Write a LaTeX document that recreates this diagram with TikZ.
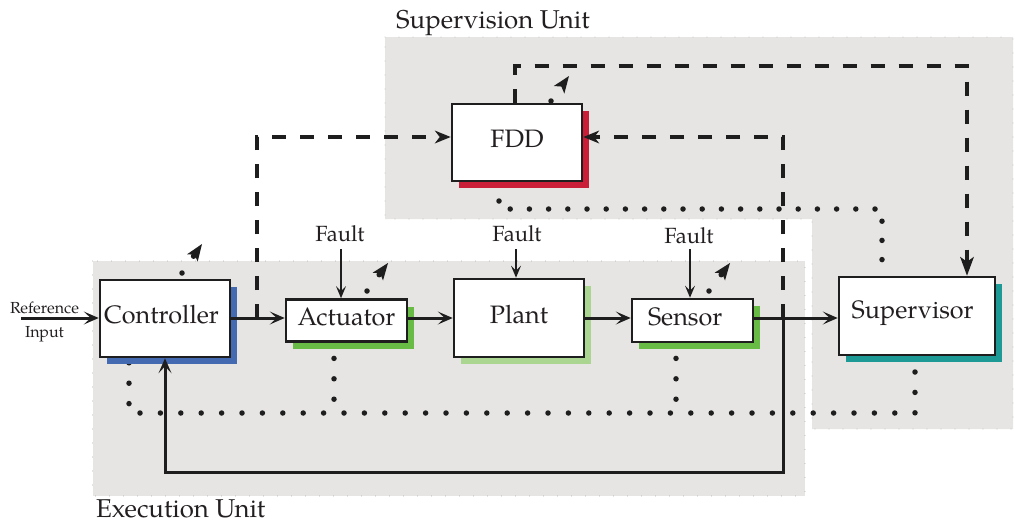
\documentclass[tikz,border=0pt]{standalone}
\usepackage{fontspec}
\setmainfont{TeX Gyre Pagella}
\usetikzlibrary{arrows.meta,shadows}
\definecolor{bluesh}{RGB}{68,106,178}
\definecolor{greensh}{RGB}{104,188,70}
\definecolor{lgreensh}{RGB}{170,214,146}
\definecolor{redsh}{RGB}{202,30,56}
\definecolor{tealsh}{RGB}{30,154,150}
\definecolor{regiongray}{RGB}{230,229,227}
\definecolor{lineblack}{RGB}{30,30,30}
\definecolor{textc}{RGB}{35,31,32}
\newcommand\boxfnt{\fontsize{25.2}{29}\selectfont}
\newcommand\unitfnt{\fontsize{25.8}{30}\selectfont}
\newcommand\faultfnt{\fontsize{22}{26}\selectfont}
\newcommand\reffnt{\fontsize{16}{19}\selectfont}
\pgfdeclarelayer{bg}
\pgfdeclarelayer{lines}
\pgfsetlayers{bg,lines,main}
\begin{document}
\begin{tikzpicture}[x=1pt,y=-1pt,
  box/.style={draw=lineblack, line width=2.6pt, fill=white, inner sep=0pt,
    text height=17.5pt, text depth=7pt, font=\boxfnt, text=textc},
  shadowof/.style={general shadow={fill=#1, draw=none, shadow xshift=7pt, shadow yshift=-7pt}},
  lbl/.style={text=textc, inner sep=0pt},
  arr/.style={line width=3pt, draw=lineblack, -{Stealth[length=15pt,width=13pt,inset=7pt,line width=0pt]}},
  faultarr/.style={line width=2pt, draw=lineblack, -{Stealth[length=12pt,width=10pt,inset=5pt,line width=0pt]}},
  dashl/.style={line width=4pt, draw=lineblack, dash pattern=on 14pt off 14pt},
  dtip/.style={-{Stealth[length=16pt,width=13pt,inset=5pt,line width=0pt]}},
  dbigtip/.style={-{Stealth[length=19pt,width=14pt,inset=5pt,line width=0pt]}},
  dotA/.style={line width=5.5pt, draw=lineblack, line cap=round, dash pattern=on 0pt off 20.4pt},
  dotB/.style={line width=5.5pt, draw=lineblack, line cap=round, dash pattern=on 0pt off 19.2pt},
  indic/.style={dotA, -{Stealth[length=17pt,width=13pt,inset=4pt,line width=0pt]}},
  regionborder/.style={draw=black!45, line width=0.8pt, line cap=round, dash pattern=on 0pt off 14pt}
]
\useasboundingbox (0,0) rectangle (1015,523);

% ---------- nodes ----------
\node[box, shadowof=bluesh, minimum width=130pt, minimum height=77pt, text width=122pt, align=left] (ctrl) at (165,318.5) {Controller};
\node[box, shadowof=greensh, minimum width=121pt, minimum height=42pt] (act) at (346.5,320.5) {Actuator};
\node[box, shadowof=lgreensh, minimum width=130pt, minimum height=78pt] (plant) at (519,318) {Plant};
\node[box, shadowof=greensh, minimum width=121pt, minimum height=43pt, text width=89pt, align=left] (sens) at (692.5,320.5) {Sensor};
\node[box, shadowof=tealsh, minimum width=156pt, minimum height=78pt, text depth=12pt, text width=130.6pt, align=left] (sup) at (917,316) {Supervisor};
\node[box, shadowof=redsh, minimum width=130pt, minimum height=77pt] (fdd) at (517,142.3) {FDD};

\node[lbl, font=\unitfnt, anchor=base west] (suplbl) at (396,28) {Supervision Unit};
\node[lbl, font=\unitfnt, anchor=base west] (exelbl) at (96,517) {Execution Unit};
\node[lbl, font=\faultfnt, anchor=base] (fa) at (340,241) {Fault};
\node[lbl, font=\faultfnt, anchor=base] (fp) at (517,241) {Fault};
\node[lbl, font=\faultfnt, anchor=base] (fs) at (689,243) {Fault};
\node[lbl, font=\reffnt, anchor=base] (refl) at (44.5,313) {Reference};
\node[lbl, font=\reffnt, anchor=base] (inpl) at (44.5,337) {Input};

% ---------- coordinates ----------
\coordinate (mainy) at (0,318);
\coordinate (refin) at (21,318);
\coordinate (j1) at (257,318);
\coordinate (j2) at (783,318);
\coordinate (fbbot) at (783,472);
\coordinate (fddin) at (0,137);
\coordinate (toprt) at (967,66);
\coordinate (supdot) at (915,351.6);
\coordinate (dA) at (915,413);
\coordinate (dB) at (129,413);
\coordinate (actdot) at (334,338);
\coordinate (sensdot) at (676,338);
\coordinate (fdddot) at (499,181.8);
\coordinate (fB) at (499,209);
\coordinate (fC) at (882,209);
\coordinate (i1s) at (182,273); \coordinate (i1t) at (202,244);
\coordinate (i2s) at (367,291); \coordinate (i2t) at (388,263);
\coordinate (i3s) at (709,291); \coordinate (i3t) at (730,263);
\coordinate (i4s) at (551,101); \coordinate (i4t) at (569,76);

% ---------- regions ----------
\begin{pgfonlayer}{bg}
  \fill[regiongray] (92.5,261) rectangle (805,496);
  \draw[regionborder] (92.5,261) rectangle (805,496);
  \fill[regiongray] (385,37) -- (1013,37) -- (1013,429) -- (812,429) -- (812,219) -- (385,219) -- cycle;
  \draw[regionborder] (385,37) -- (1013,37) -- (1013,429) -- (812,429) -- (812,219) -- (385,219) -- cycle;
\end{pgfonlayer}

% ---------- dotted links ----------
\begin{pgfonlayer}{lines}
  \draw[dotA] (supdot) -- (dA) -- (dB) -- (dB |- ctrl.south);
  \draw[dotA] (actdot) -- (actdot |- dA);
  \draw[dotA] (sensdot) -- (sensdot |- dA);
  \draw[dotB] (fdddot) -- (fB) -- (fC) -- (fC |- sup.north);
  \draw[indic] (i1s) -- (i1t);
  \draw[indic] (i2s) -- (i2t);
  \draw[indic] (i3s) -- (i3t);
  \draw[indic] (i4s) -- (i4t);
\end{pgfonlayer}

% ---------- solid links ----------
\draw[arr] (refin) -- (ctrl.west |- mainy);
\draw[arr] (ctrl.east |- mainy) -- (act.west |- mainy);
\draw[arr] (act.east |- mainy) -- (plant.west |- mainy);
\draw[arr] (plant.east |- mainy) -- (sens.west |- mainy);
\draw[arr] (sens.east |- mainy) -- (sup.west |- mainy);
\draw[arr] (j2) -- (fbbot) -- (fbbot -| ctrl.south) -- (ctrl.south);

\draw[faultarr] ([xshift=1pt,yshift=-8pt]fa.base) -- ([xshift=1pt]fa.base |- act.north);
\draw[faultarr] ([xshift=-1pt,yshift=-8pt]fp.base) -- ([xshift=-1pt]fp.base |- plant.north);
\draw[faultarr] ([xshift=1pt,yshift=-6pt]fs.base) -- ([xshift=1pt]fs.base |- sens.north);

% ---------- dashed links ----------
\draw[dashl, dtip] (j1) -- (j1 |- fddin) -- (fdd.west |- fddin);
\draw[dashl, dtip] (j2) -- (j2 |- fddin) -- (fdd.east |- fddin);
\draw[dashl, dbigtip] ([xshift=-2pt]fdd.north) -- ([xshift=-2pt]fdd.north |- toprt) -- (toprt) -- (toprt |- sup.north);
\end{tikzpicture}
\end{document}
